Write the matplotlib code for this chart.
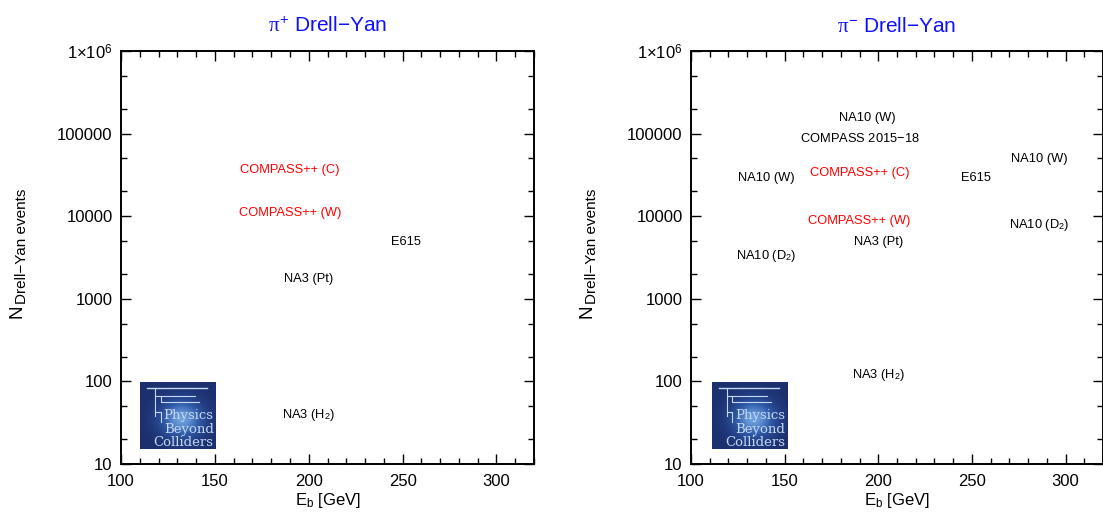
import numpy as np
import matplotlib
matplotlib.use('Agg')
import matplotlib.pyplot as plt
from matplotlib.ticker import FixedLocator, FixedFormatter, MultipleLocator, LogLocator, NullFormatter

plt.rcParams['font.family'] = ['Liberation Sans', 'DejaVu Sans']
plt.rcParams['mathtext.fontset'] = 'custom'
plt.rcParams['mathtext.rm'] = 'Liberation Sans'
plt.rcParams['mathtext.it'] = 'Liberation Serif'
plt.rcParams['mathtext.bf'] = 'Liberation Sans:bold'

## pi+ panel labels (beam energy in GeV, number of DY events)
pip_labels = ['COMPASS++ (C)', 'COMPASS++ (W)', 'E615', 'NA3 (Pt)', 'NA3 (H$_2$)']
pip_energy = [190, 190, 252, 200, 200]
pip_events = [36000, 10800, 4900, 1740, 39]
pip_colors = ['red', 'red', 'black', 'black', 'black']

## pi- panel labels
pim_labels = ['NA10 (W)', 'COMPASS 2015$-$18', 'NA10 (W)', 'NA10 (W)', 'COMPASS++ (C)',
              'E615', 'COMPASS++ (W)', 'NA10 (D$_2$)', 'NA3 (Pt)', 'NA10 (D$_2$)', 'NA3 (H$_2$)']
pim_energy = [194, 190, 286, 140, 190, 252, 190, 286, 200, 140, 200]
pim_events = [153000, 87700, 48900, 28800, 33700, 28800, 8830, 7800, 4830, 3300, 119]
pim_colors = ['black', 'black', 'black', 'black', 'red', 'black', 'red', 'black', 'black', 'black', 'black']

y_ticks = [10, 100, 1000, 10000, 100000, 1000000]
y_ticklabels = ['10', '100', '1000', '10000', '100000', '1$\\times$10$^6$']
x_ticks = [100, 150, 200, 250, 300]

W, H = 1103, 517


def draw_logo(ax, x0):
    # Physics Beyond Colliders badge in the lower left corner
    lg = ax.inset_axes([x0, 0.036, 0.184, 0.162])
    yy, xx = np.mgrid[0:1:60j, 0:1:60j]
    glow = np.exp(-((xx - 0.55) ** 2 + (yy - 0.45) ** 2) / 0.08)
    lg.imshow(glow, cmap=matplotlib.colors.LinearSegmentedColormap.from_list(
        'pbc', ['#1c2f6e', '#2f5aa8', '#6fa0df']), extent=[0, 1, 0, 1], aspect='auto', origin='lower')
    lc = '#c4d8f4'
    lg.plot([0.09, 0.88], [0.92, 0.92], color=lc, lw=1.0)
    lg.plot([0.2, 0.2, 0.72], [0.92, 0.8, 0.8], color=lc, lw=0.8)
    lg.plot([0.27, 0.27, 0.78], [0.8, 0.7, 0.7], color=lc, lw=0.8)
    lg.plot([0.2, 0.2], [0.8, 0.5], color=lc, lw=0.8)
    lg.plot([0.2, 0.27, 0.27], [0.55, 0.55, 0.4], color=lc, lw=0.8)
    for txt, yv in [('Physics', 0.5), ('Beyond', 0.3), ('Colliders', 0.1)]:
        lg.text(0.97, yv, txt, color=lc, fontsize=9.5, family='DejaVu Serif', ha='right', va='center')
    lg.set_xlim(0, 1)
    lg.set_ylim(0, 1)
    lg.set_xticks([])
    lg.set_yticks([])
    for s in lg.spines.values():
        s.set_visible(False)


def setup_axes(ax, title, labels, energy, events, colors, logo_x, ylab_x):
    ax.set_xlim(100, 320)
    ax.set_yscale('log')
    ax.set_ylim(10, 1000000)

    ax.xaxis.set_major_locator(FixedLocator(x_ticks))
    ax.xaxis.set_minor_locator(MultipleLocator(10))
    ax.yaxis.set_major_locator(FixedLocator(y_ticks))
    ax.yaxis.set_major_formatter(FixedFormatter(y_ticklabels))
    ax.yaxis.set_minor_locator(LogLocator(base=10, subs=[2, 5]))
    ax.yaxis.set_minor_formatter(NullFormatter())

    ax.tick_params(which='both', direction='in', top=True, right=True, labelsize=12, width=1.0)
    ax.tick_params(which='major', length=7)
    ax.tick_params(which='minor', length=4)
    ax.tick_params(axis='y', pad=6)
    ax.tick_params(axis='x', pad=7)
    for s in ax.spines.values():
        s.set_linewidth(1.4)

    ax.set_title(title, color='#1010ff', fontsize=15, pad=14)
    ax.set_xlabel('E$_{\\rm b}$ [GeV]', fontsize=12, labelpad=2)

    ## y label : big N with a smaller subscript
    fig.text(ylab_x / W, 1 - 311 / H, 'N', fontsize=13.5, rotation=90, ha='center', va='center')
    fig.text((ylab_x + 5) / W, 1 - 246.5 / H, 'Drell\u2212Yan events', fontsize=11,
             rotation=90, ha='center', va='center')

    for i in range(len(labels)):
        ax.text(energy[i], events[i], labels[i], color=colors[i], fontsize=9.3,
                ha='center', va='center')

    draw_logo(ax, logo_x)


fig = plt.figure(figsize=(W / 100, H / 100), dpi=100)
ax1 = fig.add_axes([121 / W, 53 / H, 413 / W, 413 / H])
ax2 = fig.add_axes([691 / W, 53 / H, 412 / W, 413 / H])

setup_axes(ax1, '$\\pi^{+}$ Drell\u2212Yan', pip_labels, pip_energy, pip_events, pip_colors, 0.046, 17)
setup_axes(ax2, '$\\pi^{-}$ Drell\u2212Yan', pim_labels, pim_energy, pim_events, pim_colors, 0.051, 587)

fig.savefig('out.png', dpi=100)
